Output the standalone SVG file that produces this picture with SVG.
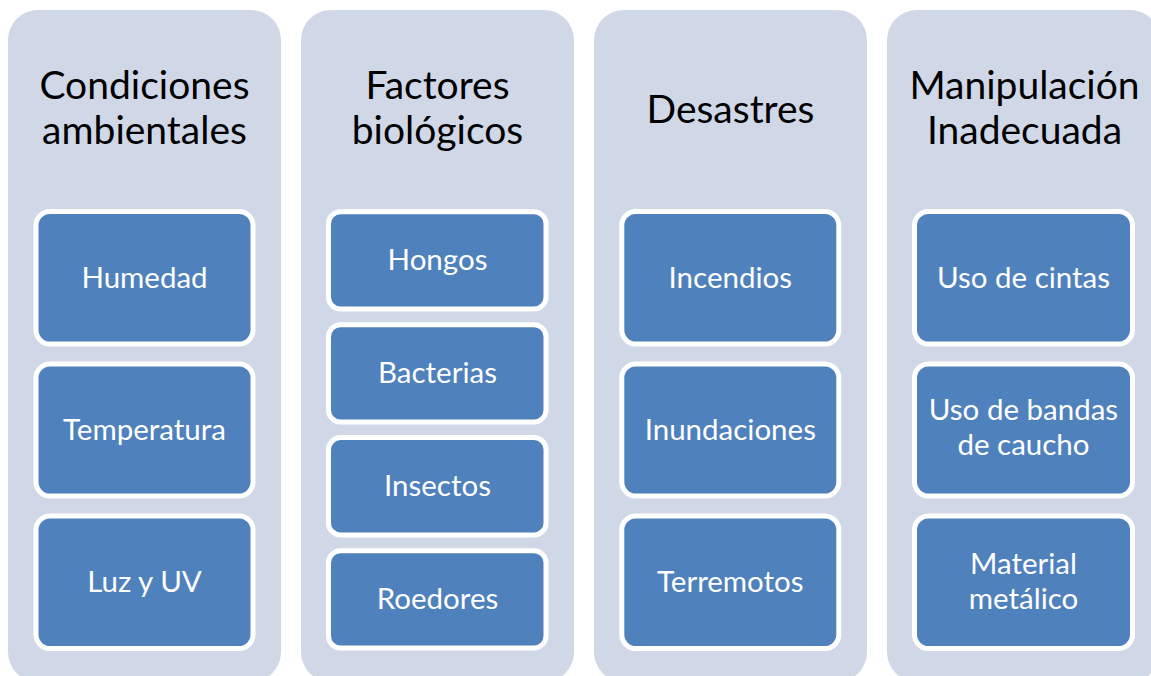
<svg xmlns="http://www.w3.org/2000/svg" width="1151" height="676" viewBox="0 0 1151 676">
<style>
.col{fill:#D0D8E8}
.box{fill:#4F81BD;stroke:#FFFFFF;stroke-width:5}
.hd{font-family:Lato,"Open Sans",sans-serif;font-size:39px;fill:#000000;text-anchor:middle}
.tx{font-family:Lato,"Open Sans",sans-serif;font-size:29.5px;fill:#FFFFFF;text-anchor:middle}
</style>
<rect width="1151" height="676" fill="#FFFFFF"/>
<g id="col1">
<rect class="col" x="8" y="10" width="273" height="672" rx="30"/>
<text class="hd" x="144.5" y="98.5">Condiciones</text>
<text class="hd" x="144.5" y="144">ambientales</text>
</g>
<g id="col1-humedad"><rect class="box" x="36" y="211.5" width="217" height="132.5" rx="14"/><text class="tx" x="144.5" y="287.5">Humedad</text></g>
<g id="col1-temperatura"><rect class="box" x="36" y="364" width="217" height="132" rx="14"/><text class="tx" x="144.5" y="440">Temperatura</text></g>
<g id="col1-luz"><rect class="box" x="36" y="516" width="217" height="132.5" rx="14"/><text class="tx" x="144.5" y="592">Luz y UV</text></g>

<g id="col2">
<rect class="col" x="301" y="10" width="273" height="672" rx="30"/>
<text class="hd" x="437.5" y="98.5">Factores</text>
<text class="hd" x="437.5" y="144">biológicos</text>
</g>
<g id="col2-hongos"><rect class="box" x="328.5" y="211.8" width="217.5" height="97.3" rx="12"/><text class="tx" x="437.5" y="270.2">Hongos</text></g>
<g id="col2-bacterias"><rect class="box" x="328.5" y="324.8" width="217.5" height="97.3" rx="12"/><text class="tx" x="437.5" y="383.2">Bacterias</text></g>
<g id="col2-insectos"><rect class="box" x="328.5" y="437.6" width="217.5" height="97.3" rx="12"/><text class="tx" x="437.5" y="496">Insectos</text></g>
<g id="col2-roedores"><rect class="box" x="328.5" y="550.8" width="217.5" height="97.3" rx="12"/><text class="tx" x="437.5" y="609.2">Roedores</text></g>

<g id="col3">
<rect class="col" x="594" y="10" width="273" height="672" rx="30"/>
<text class="hd" x="730.5" y="122.5">Desastres</text>
</g>
<g id="col3-incendios"><rect class="box" x="621.8" y="211.5" width="217" height="132.5" rx="14"/><text class="tx" x="730.3" y="287.5">Incendios</text></g>
<g id="col3-inundaciones"><rect class="box" x="621.8" y="364" width="217" height="132" rx="14"/><text class="tx" x="730.3" y="440">Inundaciones</text></g>
<g id="col3-terremotos"><rect class="box" x="621.8" y="516" width="217" height="132.5" rx="14"/><text class="tx" x="730.3" y="592">Terremotos</text></g>

<g id="col4">
<rect class="col" x="887" y="10" width="273" height="672" rx="30"/>
<text class="hd" x="1024.5" y="98.5">Manipulación</text>
<text class="hd" x="1024.5" y="144">Inadecuada</text>
</g>
<g id="col4-cintas"><rect class="box" x="914.5" y="211.5" width="218" height="132.5" rx="14"/><text class="tx" x="1023.5" y="287.5">Uso de cintas</text></g>
<g id="col4-bandas"><rect class="box" x="914.5" y="364" width="218" height="132" rx="14"/><text class="tx" x="1023.5" y="419.5">Uso de bandas</text><text class="tx" x="1023.5" y="455">de caucho</text></g>
<g id="col4-metal"><rect class="box" x="914.5" y="516" width="218" height="132.5" rx="14"/><text class="tx" x="1023.5" y="573.5">Material</text><text class="tx" x="1023.5" y="608.5">metálico</text></g>
<g id="connectors"/>
</svg>
